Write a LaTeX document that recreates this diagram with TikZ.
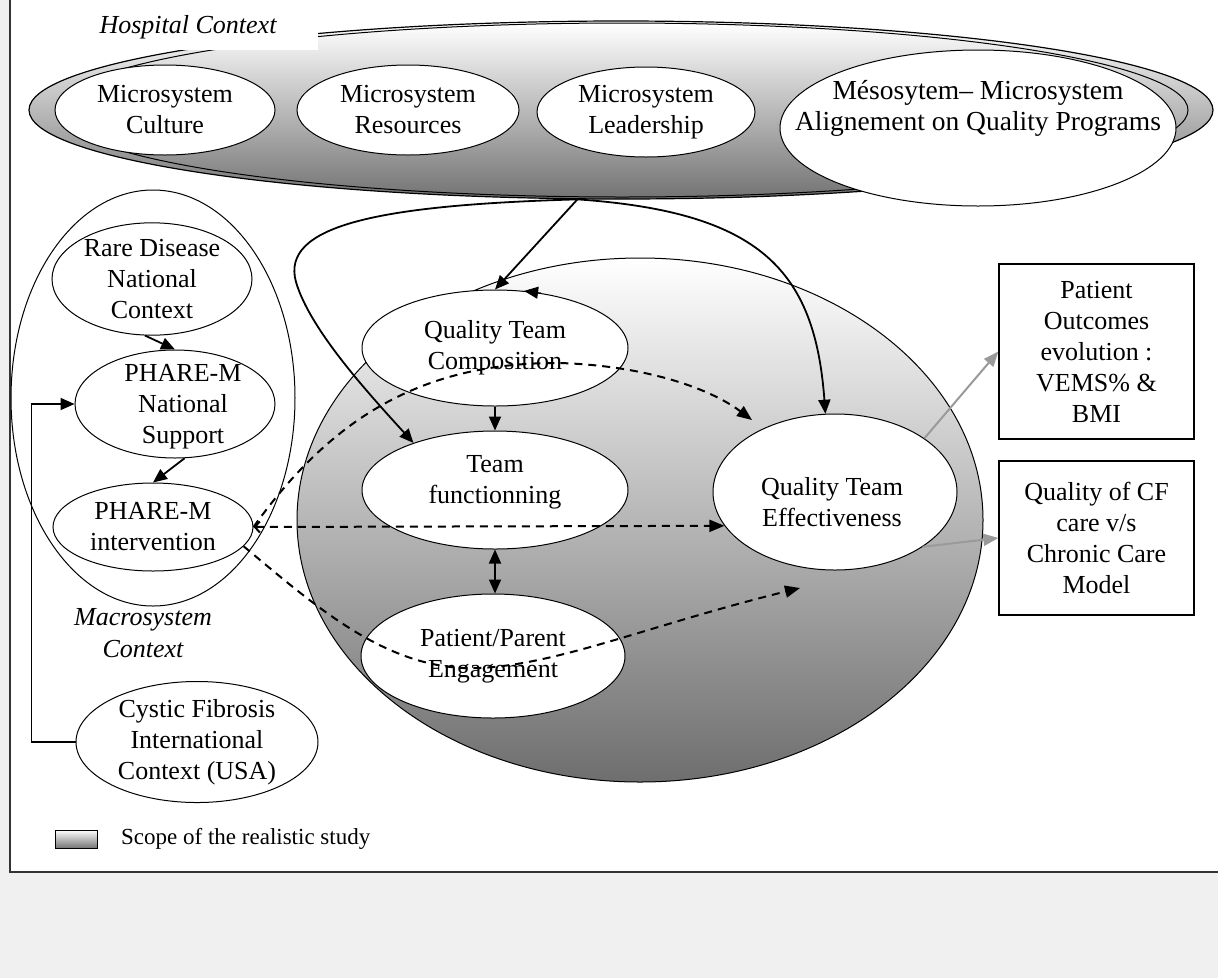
\documentclass[tikz,border=0pt]{standalone}
\usepackage{fontspec}
\setmainfont{Liberation Serif}
\usetikzlibrary{arrows.meta,shapes.geometric,calc}
\definecolor{bgout}{HTML}{F0F0F0}
\definecolor{shdark}{HTML}{6E6E6E}
\definecolor{hdark}{HTML}{747474}
\definecolor{framec}{HTML}{333333}
\definecolor{garrow}{HTML}{9A9A9A}
\tikzset{
  txt/.style={font=\fontsize{26}{31}\selectfont, align=center},
  itxt/.style={font=\fontsize{26}{32}\selectfont\itshape, align=center},
  ell/.style={ellipse, draw, line width=1pt, fill=white, inner sep=0pt, txt},
  arr/.style={line width=1.8pt, -{Triangle[length=14pt,width=12pt]}},
  darr/.style={line width=2pt, dash pattern=on 8pt off 6pt, -{Triangle[length=15pt,width=12pt]}},
  garr/.style={line width=2pt, draw=garrow, -{Triangle[length=15pt,width=12pt,fill=garrow]}},
  outbox/.style={draw, line width=1.3pt, fill=white, txt, inner sep=0pt}
}
\begin{document}
\begin{tikzpicture}[x=1pt,y=-1pt]
\useasboundingbox (0,0) rectangle (1218,978);
\fill[bgout] (0,0) rectangle (1218,978);
\draw[framec, line width=1.5pt, fill=white] (10,-20) rectangle (1240,872);

% Hospital context
\node[ellipse, draw, line width=1.2pt, minimum width=1184pt, minimum height=178pt,
      top color=white, bottom color=hdark] (hosp) at (621,110) {};
\draw[line width=1pt, top color=white, middle color=white!90!black, bottom color=hdark]
      (622,110) ellipse [x radius=566pt, y radius=87pt];
\fill[white] (80,0) rectangle (318,50);
\node[itxt] (hctx) at (188,27) {Hospital Context};

\node[ell, minimum width=220pt, minimum height=90pt] (mcult) at (165,110) {Microsystem\\Culture};
\node[ell, minimum width=222pt, minimum height=90pt] (mres) at (408,110) {Microsystem\\Resources};
\node[ell, minimum width=218pt, minimum height=90pt] (mlead) at (646,112) {Microsystem\\Leadership};
\node[ell, minimum width=396pt, minimum height=156pt] (meso) at (978,128) {};
\node[txt, font=\fontsize{27.5}{31}\selectfont] (mesot) at (978,108) {Mésosytem– Microsystem\\Alignement on Quality Programs};

% Scope of the study
\node[ellipse, draw, line width=1pt, minimum width=686pt, minimum height=524pt,
      top color=white, bottom color=shdark] (scope) at (640,520) {};

% Macrosystem context
\node[ellipse, draw, line width=1pt, minimum width=284pt, minimum height=416pt] (macro) at (153,398) {};
\node[itxt] (mctx) at (143,633) {Macrosystem\\Context};
\node[ell, minimum width=200pt, minimum height=102pt] (rare) at (152,279) {Rare Disease\\National\\Context};
\node[ell, minimum width=200pt, minimum height=108pt] (nat) at (175,404) {};
\node[txt] (natt) at (183,407) {PHARE-M\\National\\Support};
\node[ell, minimum width=200pt, minimum height=88pt] (intv) at (153,527) {PHARE-M\\intervention};
\node[ell, minimum width=242pt, minimum height=116pt] (cyst) at (197,742) {Cystic Fibrosis\\International\\Context (USA)};

% Team nodes
\node[ell, minimum width=266pt, minimum height=116pt] (qtc) at (495,348) {Quality Team\\Composition};
\node[ell, minimum width=266pt, minimum height=118pt] (tf) at (495,490) {};
\node[txt] (tft) at (495,482) {Team\\functionning};
\node[ell, minimum width=264pt, minimum height=124pt] (ppe) at (493,656) {Patient/Parent\\Engagement};
\node[ell, minimum width=244pt, minimum height=156pt] (qte) at (835,492) {};
\node[txt] (qtet) at (832,502) {Quality Team\\Effectiveness};

% Outcome boxes
\node[outbox, minimum width=195pt, minimum height=175pt] (box1) at (1096.5,351.5) {Patient\\Outcomes\\evolution :\\VEMS\% \&\\BMI};
\node[outbox, minimum width=195pt, minimum height=154pt] (box2) at (1096.5,538) {Quality of CF\\care v/s\\Chronic Care\\Model};

% Legend
\node[draw, line width=1pt, minimum width=42pt, minimum height=18pt, inner sep=0pt,
      top color=white, bottom color=hdark] (leg) at (76,839) {};
\node[font=\fontsize{23}{27}\selectfont, anchor=west, inner sep=0pt] (legt) at (121,839) {Scope of the realistic study};

% Free ends
\coordinate (uptip) at (752,420);
\coordinate (lowtip) at (800,588);

% Connectors
\draw[arr] (rare.-97) -- (nat.north);
\draw[arr] (nat.-80) -- (intv.north);
\draw[arr] (cyst.west) -- ++(-44,0) |- (nat.west);

\draw[arr] (hosp.244) -- (qtc.north);
\draw[arr] (hosp.244) .. controls (380,205) and (280,225) .. (296,282)
      .. controls (310,330) and (370,395) .. (tf.150);
\draw[arr] (hosp.244) .. controls (760,212) and (815,270) .. (qte.97);

\draw[arr, line width=1pt] (qtc.50) -- (qtc.63);
\draw[arr] (qtc.south) -- (tf.north);
\draw[line width=1.8pt, {Triangle[length=14pt,width=12pt]}-{Triangle[length=14pt,width=12pt]}]
      (tf.south) -- (tf.south |- ppe.north);

\draw[darr, {Straight Barb[length=5pt,width=11pt]}-{Triangle[length=15pt,width=12pt]}]
      (intv.east) -- (qte.197);
\draw[darr] (intv.east) .. controls (330,420) and (420,362) .. (560,363)
      .. controls (650,366) and (712,390) .. (uptip);
\draw[darr] (intv.-12) .. controls (320,610) and (390,672) .. (480,668)
      .. controls (560,664) and (650,625) .. (lowtip);

\draw[garr] (qte.31) -- (box1.west);
\draw[garr] (qte.-32) -- (box2.west);
\end{tikzpicture}
\end{document}
